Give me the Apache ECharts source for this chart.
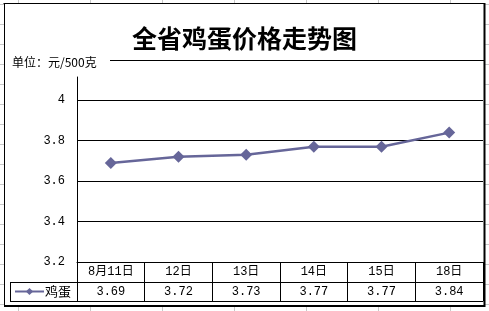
<!DOCTYPE html>
<html>
<head>
<meta charset="utf-8">
<script src="https://cdn.jsdelivr.net/npm/echarts@6/dist/echarts.min.js"></script>
<style>
html,body{margin:0;padding:0;background:#fff;}
#chart{width:489px;height:311px;}
</style>
</head>
<body>
<div id="chart"></div>
<script>
const titleText = '全省鸡蛋价格走势图';
const unitText = '单位：元/500克';
const seriesName = '鸡蛋';
const categories = ['8月11日', '12日', '13日', '14日', '15日', '18日'];
const eggPrices = [3.69, 3.72, 3.73, 3.77, 3.77, 3.84];
const yMin = 3.2, yMax = 4.115, yStep = 0.2;

const monoFont = '"Liberation Mono", "Noto Sans CJK SC", monospace';
const cjkFont = '"Noto Sans CJK SC", sans-serif';

const chart = echarts.init(document.getElementById('chart'), null, {renderer: 'canvas'});

// spreadsheet background grid (decoration)
const sheetLines = [];
for (let x = 18.5; x < 489; x += 72) {
  sheetLines.push({type: 'line', z: -10, shape: {x1: x, y1: 0, x2: x, y2: 311}, style: {stroke: '#c8c8c8', lineWidth: 1}});
}
for (let y = 4.5; y < 311; y += 20) {
  sheetLines.push({type: 'line', z: -10, shape: {x1: 0, y1: y, x2: 489, y2: y}, style: {stroke: '#c8c8c8', lineWidth: 1}});
}

const option = {
  animation: false,
  backgroundColor: '#fff',
  title: {
    text: titleText,
    left: 'center',
    top: 21,
    textStyle: {fontFamily: cjkFont, fontWeight: 'bold', fontSize: 25, color: '#000'}
  },
  legend: {
    left: 14,
    top: 285,
    padding: 0,
    itemWidth: 29,
    itemHeight: 9,
    itemGap: 0,
    textStyle: {fontFamily: cjkFont, fontSize: 13, color: '#000', padding: [0, 0, 0, -4]},
    data: [seriesName]
  },
  grid: {left: 77, right: 6, top: 77, bottom: 49, containLabel: false},
  xAxis: [
    {
      type: 'category',
      data: categories,
      boundaryGap: true,
      position: 'bottom',
      axisLine: {show: true, lineStyle: {color: '#000', width: 1}},
      axisTick: {show: true, length: 39, alignWithLabel: false, lineStyle: {color: '#000', width: 1}},
      axisLabel: {margin: 4, fontSize: 12, color: '#000', fontFamily: monoFont},
      splitLine: {show: false}
    },
    {
      type: 'category',
      data: eggPrices.map(v => v.toFixed(2)),
      boundaryGap: true,
      position: 'bottom',
      offset: 20,
      axisLine: {show: true, lineStyle: {color: '#000', width: 1}},
      axisTick: {show: false},
      axisLabel: {margin: 4, fontSize: 12, color: '#000', fontFamily: monoFont},
      splitLine: {show: false}
    },
    {
      type: 'category',
      data: categories,
      boundaryGap: true,
      position: 'bottom',
      offset: 39,
      axisLine: {show: true, lineStyle: {color: '#000', width: 1}},
      axisTick: {show: false},
      axisLabel: {show: false},
      splitLine: {show: false}
    }
  ],
  yAxis: {
    type: 'value',
    min: yMin,
    max: yMax,
    interval: yStep,
    axisLine: {show: true, lineStyle: {color: '#000', width: 1}},
    axisTick: {show: false},
    axisLabel: {
      margin: 12, fontSize: 12, color: '#000', fontFamily: monoFont,
      showMaxLabel: false,
      formatter: v => (Math.abs(v - Math.round(v)) < 1e-9 ? String(Math.round(v)) : v.toFixed(1))
    },
    splitLine: {show: true, showMinLine: false, showMaxLine: false, lineStyle: {color: '#000', width: 1}}
  },
  series: [{
    name: seriesName,
    type: 'line',
    xAxisIndex: 0,
    data: eggPrices,
    symbol: 'diamond',
    symbolSize: 12,
    itemStyle: {color: '#666699'},
    lineStyle: {color: '#666699', width: 2.5}
  }],
  graphic: sheetLines.concat([
    {type: 'rect', z: -5, shape: {x: 4, y: 3, width: 480, height: 303}, style: {fill: '#fff', stroke: null}},
    {type: 'line', z: 5, shape: {x1: 3.5, y1: 3.5, x2: 484.5, y2: 3.5}, style: {stroke: '#000', lineWidth: 1}},
    {type: 'line', z: 5, shape: {x1: 4.5, y1: 3, x2: 4.5, y2: 306}, style: {stroke: '#000', lineWidth: 1}},
    {type: 'line', z: 5, shape: {x1: 484.5, y1: 3, x2: 484.5, y2: 307}, style: {stroke: '#000', lineWidth: 2}},
    {type: 'line', z: 5, shape: {x1: 4, y1: 306, x2: 485, y2: 306}, style: {stroke: '#000', lineWidth: 2}},
    {type: 'line', z: 5, shape: {x1: 110, y1: 60.5, x2: 484, y2: 60.5}, style: {stroke: '#000', lineWidth: 1}},
    {type: 'text', z: 5, left: 12, top: 56, style: {text: unitText, fontFamily: cjkFont, fontSize: 12, fill: '#000'}},
    {type: 'line', z: 5, shape: {x1: 10.5, y1: 282.5, x2: 77, y2: 282.5}, style: {stroke: '#000', lineWidth: 1}},
    {type: 'line', z: 5, shape: {x1: 10.5, y1: 301.5, x2: 77, y2: 301.5}, style: {stroke: '#000', lineWidth: 1}},
    {type: 'line', z: 5, shape: {x1: 10.5, y1: 282, x2: 10.5, y2: 302}, style: {stroke: '#000', lineWidth: 1}}
  ])
};
chart.setOption(option);
</script>
</body>
</html>
